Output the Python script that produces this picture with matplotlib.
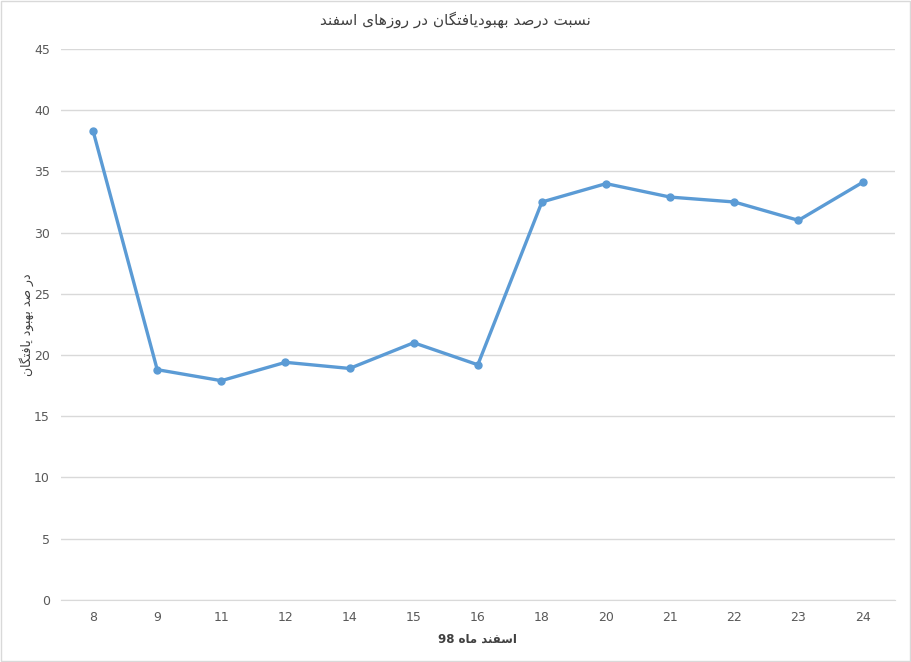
import re
import matplotlib
matplotlib.use('Agg')
import matplotlib.pyplot as plt
from matplotlib.patches import Rectangle

plt.rcParams['font.family'] = ['DejaVu Sans']

# داده‌ها
days = ['8', '9', '11', '12', '14', '15', '16', '18', '20', '21', '22', '23', '24']
recovered_pct = [38.3, 18.8, 17.9, 19.4, 18.9, 21.0, 19.2, 32.5, 34.0, 32.9, 32.5, 31.0, 34.1]

title_txt = 'نسبت درصد بهبودیافتگان در روزهای اسفند'
xlabel_txt = 'اسفند ماه 98'
ylabel_txt = 'در صد بهبود یافتگان'

# matplotlib does no Arabic shaping, so map letters to presentation forms by hand
# (isolated, final, initial, medial); two-form letters only join to the right
FORMS = {
    'ا': ('\uFE8D', '\uFE8E'),
    'ب': ('\uFE8F', '\uFE90', '\uFE91', '\uFE92'),
    'ت': ('\uFE95', '\uFE96', '\uFE97', '\uFE98'),
    'د': ('\uFEA9', '\uFEAA'),
    'ر': ('\uFEAD', '\uFEAE'),
    'ز': ('\uFEAF', '\uFEB0'),
    'س': ('\uFEB1', '\uFEB2', '\uFEB3', '\uFEB4'),
    'ص': ('\uFEB9', '\uFEBA', '\uFEBB', '\uFEBC'),
    'ف': ('\uFED1', '\uFED2', '\uFED3', '\uFED4'),
    'م': ('\uFEE1', '\uFEE2', '\uFEE3', '\uFEE4'),
    'ن': ('\uFEE5', '\uFEE6', '\uFEE7', '\uFEE8'),
    'ه': ('\uFEE9', '\uFEEA', '\uFEEB', '\uFEEC'),
    'و': ('\uFEED', '\uFEEE'),
    'ی': ('\uFBFC', '\uFBFD', '\uFBFE', '\uFBFF'),
    'گ': ('\uFB92', '\uFB93', '\uFB94', '\uFB95'),
}


def shape(s):
    out = []
    for i, ch in enumerate(s):
        if ch not in FORMS:
            out.append(ch)
            continue
        prev = s[i - 1] if i > 0 else ''
        nxt = s[i + 1] if i + 1 < len(s) else ''
        j_prev = prev in FORMS and len(FORMS[prev]) == 4
        j_next = len(FORMS[ch]) == 4 and nxt in FORMS
        f = FORMS[ch]
        if j_prev and j_next:
            out.append(f[3])
        elif j_prev:
            out.append(f[1])
        elif j_next:
            out.append(f[2])
        else:
            out.append(f[0])
    vis = ''.join(out)[::-1]
    # digits keep left-to-right order
    return re.sub(r'[0-9]+', lambda m: m.group(0)[::-1], vis)


fig = plt.figure(figsize=(9.11, 6.62), dpi=100)
ax = fig.add_axes([0.067, 0.094, 0.915, 0.832])

x = list(range(len(days)))
ax.plot(x, recovered_pct, color='#5B9BD5', linewidth=2.4,
        marker='o', markersize=5, solid_joinstyle='round', zorder=3)

ax.set_xlim(-0.5, len(days) - 0.5)
ax.set_ylim(0, 45)
ax.set_yticks(range(0, 46, 5))
ax.set_xticks(x)
ax.set_xticklabels(days)

ax.grid(axis='y', color='#D9D9D9', linewidth=1)
ax.set_axisbelow(True)
for side in ['top', 'right', 'left']:
    ax.spines[side].set_visible(False)
ax.spines['bottom'].set_color('#D9D9D9')
ax.tick_params(length=0, labelsize=9, colors='#595959', pad=8)

# title is centred on the whole chart, not on the plot area
fig.text(0.5, 0.970, shape(title_txt), fontsize=11, color='#404040',
         ha='center', va='center')
ax.set_xlabel(shape(xlabel_txt), fontsize=8.5, color='#404040',
              fontweight='bold', labelpad=6)
ax.set_ylabel(shape(ylabel_txt), fontsize=9, color='#404040', labelpad=0)

# chart border like the spreadsheet export
fig.patches.append(Rectangle((0.001, 0.001), 0.998, 0.997, transform=fig.transFigure,
                             fill=False, edgecolor='#D9D9D9', linewidth=1))

fig.savefig('out.png', dpi=100)
